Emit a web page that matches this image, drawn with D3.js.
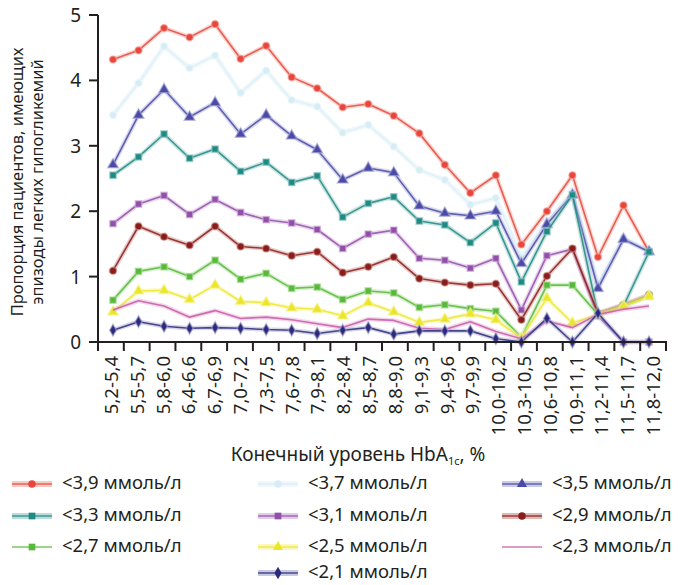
<!DOCTYPE html>
<html><head><meta charset="utf-8">
<script src="https://cdn.jsdelivr.net/npm/d3@7"></script>
<style>body{margin:0;background:#fff}svg{display:block}text{font-family:"Noto Sans",sans-serif;fill:#231f20}</style>
</head><body><svg id="c" width="688" height="585"></svg>
<script>
const categories = ["5,2-5,4","5,5-5,7","5,8-6,0","6,4-6,6","6,7-6,9","7,0-7,2","7,3-7,5","7,6-7,8","7,9-8,1","8,2-8,4","8,5-8,7","8,8-9,0","9,1-9,3","9,4-9,6","9,7-9,9","10,0-10,2","10,3-10,5","10,6-10,8","10,9-11,1","11,2-11,4","11,5-11,7","11,8-12,0"];
const yTicks = [0,1,2,3,4,5];
const s39 = [4.32,4.46,4.80,4.66,4.86,4.33,4.53,4.05,3.88,3.59,3.64,3.46,3.19,2.71,2.28,2.55,1.49,2.00,2.55,1.30,2.09,1.38];
const s37 = [3.47,3.96,4.52,4.19,4.38,3.81,4.15,3.70,3.60,3.20,3.32,2.99,2.63,2.48,2.10,2.20,1.30,1.85,2.30,0.90,1.60,1.40];
const s35 = [2.71,3.47,3.86,3.44,3.66,3.18,3.47,3.15,2.94,2.48,2.66,2.59,2.08,1.97,1.93,2.00,1.20,1.80,2.25,0.82,1.57,1.38];
const s33 = [2.55,2.83,3.18,2.81,2.95,2.61,2.75,2.44,2.54,1.91,2.12,2.22,1.85,1.79,1.52,1.82,0.92,1.69,2.25,0.42,0.55,1.38];
const s31 = [1.81,2.11,2.24,1.95,2.18,1.98,1.87,1.82,1.72,1.43,1.65,1.71,1.28,1.25,1.13,1.28,0.49,1.32,1.42,0.40,0.00,0.00];
const s29 = [1.09,1.77,1.61,1.48,1.77,1.46,1.43,1.32,1.38,1.06,1.15,1.30,0.97,0.91,0.87,0.89,0.34,1.01,1.43,0.44,0.57,0.72];
const s27 = [0.64,1.08,1.15,1.00,1.25,0.96,1.05,0.82,0.84,0.65,0.78,0.75,0.53,0.57,0.51,0.47,0.07,0.87,0.87,0.42,0.55,0.70];
const s25 = [0.46,0.78,0.79,0.65,0.87,0.62,0.60,0.52,0.50,0.40,0.60,0.46,0.30,0.35,0.43,0.34,0.06,0.67,0.29,0.42,0.55,0.70];
const s23 = [0.49,0.63,0.55,0.38,0.48,0.36,0.38,0.34,0.28,0.22,0.35,0.33,0.21,0.19,0.31,0.16,0.05,0.32,0.22,0.42,0.50,0.55];
const s21 = [0.18,0.31,0.24,0.21,0.22,0.21,0.19,0.18,0.13,0.18,0.22,0.12,0.17,0.17,0.17,0.05,0.00,0.36,0.00,0.44,0.00,0.00];
const seriesNames = ["<3,9 ммоль/л","<3,7 ммоль/л","<3,5 ммоль/л","<3,3 ммоль/л","<3,1 ммоль/л","<2,9 ммоль/л","<2,7 ммоль/л","<2,5 ммоль/л","<2,3 ммоль/л","<2,1 ммоль/л"];
const seriesColors = ["#e8463c","#d6edf6","#4b4aa6","#1f8983","#9150a8","#8a1c1c","#58b83a","#ece62a","#c65aa6","#2b2a7c"];
const seriesHalo = ["#f5a89e","#eef7fb","#a9a8d6","#8cc4c1","#cfa9d9","#c98c84","#a9dd95","#f7f39a","#e5a8d5","#a3a3cc"];
const seriesShapes = ["circle","circle","triangle","square","square","circle","square","triangle","none","diamond"];
const seriesData = [s39,s37,s35,s33,s31,s29,s27,s25,s23,s21];

const svg = d3.select("#c");
const x0 = 98, x1 = 666, yTop = 15, yBot = 342;
const xb = d3.scaleBand().domain(categories).range([x0, x1]).padding(0);
const xp = d3.scalePoint().domain(categories).range([113, 649]);
const y = d3.scaleLinear().domain([0,5]).range([yBot, yTop]);
const symType = {circle:d3.symbolCircle, triangle:d3.symbolTriangle, square:d3.symbolSquare, diamond:d3.symbolDiamond};

const line = d3.line().x((d,i)=>xp(categories[i])).y(d=>y(d));
const order = [1,0,2,3,4,5,6,7,8,9];
order.forEach(k=>{
  const g = svg.append("g");
  const data = seriesData[k];
  const faint = k===1;
  g.append("path").attr("d", line(data)).attr("fill","none")
    .attr("stroke", seriesHalo[k]).attr("stroke-width", faint?5:4.5).attr("stroke-opacity", faint?0.9:0.45).attr("stroke-linejoin","round");
  g.append("path").attr("d", line(data)).attr("fill","none")
    .attr("stroke", seriesColors[k]).attr("stroke-width", faint?1.2:1.6).attr("stroke-opacity", faint?0.8:0.85).attr("stroke-linejoin","round");
  if (seriesShapes[k] !== "none") {
    const sym = d3.symbol().type(symType[seriesShapes[k]]).size(seriesShapes[k]==="triangle"?50:40);
    g.selectAll("path.m").data(data).join("path").attr("class","m")
      .attr("transform",(d,i)=>`translate(${xp(categories[i])},${y(d)})`)
      .attr("d", sym).attr("fill", seriesColors[k]).attr("stroke", seriesHalo[k]).attr("stroke-width",1.5).attr("stroke-opacity",0.6);
  }
});

// axes
const ax = svg.append("g");
ax.append("line").attr("x1",x0).attr("x2",x0).attr("y1",yTop).attr("y2",yBot).attr("stroke","#231f20").attr("stroke-width",2);
ax.append("line").attr("x1",89).attr("x2",x1+1).attr("y1",yBot).attr("y2",yBot).attr("stroke","#231f20").attr("stroke-width",2);
ax.selectAll("line.yt").data(yTicks).join("line").attr("class","yt")
  .attr("x1",89).attr("x2",x0).attr("y1",d=>y(d)).attr("y2",d=>y(d)).attr("stroke","#231f20").attr("stroke-width",2);
ax.selectAll("text.yl").data(yTicks).join("text").attr("class","yl")
  .attr("x",81).attr("y",d=>y(d)+7).attr("text-anchor","end").attr("font-size",19).text(d=>d);
const bounds = categories.map(c=>xb(c)).concat([x1]);
ax.selectAll("line.xt").data(bounds).join("line").attr("class","xt")
  .attr("x1",d=>d).attr("x2",d=>d).attr("y1",yBot).attr("y2",yBot+9).attr("stroke","#231f20").attr("stroke-width",2);
ax.selectAll("text.xl").data(categories).join("text").attr("class","xl")
  .attr("transform",d=>`translate(${xb(d)+xb.bandwidth()/2+7},${yBot+14}) rotate(-90)`)
  .attr("text-anchor","end").attr("font-size",18.5).text(d=>d);

// axis titles
const yt = svg.append("text").attr("transform","translate(23,182) rotate(-90)").attr("text-anchor","middle").attr("font-size",16.5);
yt.append("tspan").attr("x",0).attr("dy",0).text("Пропорция пациентов, имеющих");
yt.append("tspan").attr("x",0).attr("dy",20).text("эпизоды легких гипогликемий");
const xt = svg.append("text").attr("x",358).attr("y",461).attr("text-anchor","middle").attr("font-size",19);
xt.append("tspan").text("Конечный уровень HbA");
xt.append("tspan").attr("font-size",11).attr("dy",4).text("1c");
xt.append("tspan").attr("dy",-4).text(", %");

// legend
const colX = [12,258,502], rowY = [484,516,547,573];
const legPos = [[0,0],[1,0],[2,0],[0,1],[1,1],[2,1],[0,2],[1,2],[2,2],[1,3]];
seriesNames.forEach((name,k)=>{
  const lx = colX[legPos[k][0]], ly = rowY[legPos[k][1]];
  const g = svg.append("g");
  if (k!==6 && k!==8) g.append("line").attr("x1",lx).attr("x2",lx+40).attr("y1",ly).attr("y2",ly)
    .attr("stroke",seriesHalo[k]).attr("stroke-width",6).attr("stroke-opacity",k===1?0.9:0.6);
  g.append("line").attr("x1",lx).attr("x2",lx+40).attr("y1",ly).attr("y2",ly)
    .attr("stroke",seriesColors[k]).attr("stroke-width",k===1?1.5:1.3).attr("stroke-opacity",0.8);
  if (seriesShapes[k] !== "none") {
    g.append("path").attr("transform",`translate(${lx+20},${ly})`)
      .attr("d", d3.symbol().type(symType[seriesShapes[k]]).size(45)()).attr("fill",seriesColors[k]);
  }
  g.append("text").attr("x",lx+50).attr("y",ly+5).attr("font-size",18.5).text(name);
});
</script></body></html>
